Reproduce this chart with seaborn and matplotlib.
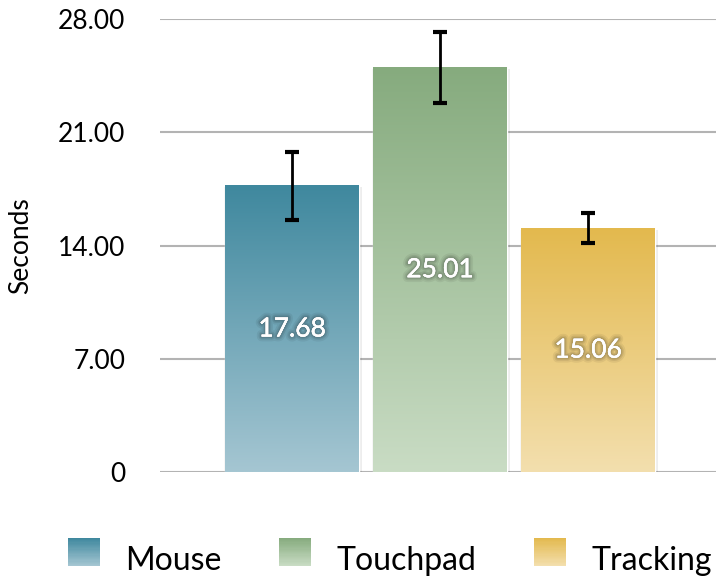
import numpy as np
import pandas as pd
import matplotlib
matplotlib.use("Agg")
import matplotlib.pyplot as plt
import matplotlib.patheffects as pe
from matplotlib.patches import Rectangle
from matplotlib.colors import to_rgb
import seaborn as sns

# Data
devices = ["Mouse", "Touchpad", "Tracking"]
mean_seconds = [17.68, 25.01, 15.06]
err_seconds = [2.1, 2.2, 0.93]
y_ticks = [0, 7, 14, 21, 28]
y_tick_labels = ["0", "7.00", "14.00", "21.00", "28.00"]

# gradient colours (top, bottom) per bar
top_colors = ["#3f889e", "#86ab7e", "#e3b94e"]
bottom_colors = ["#a5c6d2", "#c9dcc4", "#f3dfae"]


def gradient_rgb(top, bottom, n=256):
    t = np.linspace(0, 1, n)[:, None]
    a = np.array(to_rgb(top))
    b = np.array(to_rgb(bottom))
    return (a * (1 - t) + b * t)[:, None, :]


class GradientHandler:
    def __init__(self, top, bottom, steps=24):
        self.top, self.bottom, self.steps = top, bottom, steps

    def legend_artist(self, legend, orig_handle, fontsize, handlebox):
        x0, y0 = handlebox.xdescent, handlebox.ydescent
        w, h = handlebox.width, handlebox.height
        cols = gradient_rgb(self.top, self.bottom, self.steps)[:, 0, :]
        dh = h / self.steps
        for i, c in enumerate(cols):
            r = Rectangle((x0, y0 + h - (i + 1) * dh), w, dh * 1.05,
                          facecolor=c, edgecolor="none",
                          transform=handlebox.get_transform())
            handlebox.add_artist(r)
        return r


sns.set_theme(style="white")
plt.rcParams["font.family"] = ["Lato", "DejaVu Sans"]
plt.rcParams["text.color"] = "black"
plt.rcParams["axes.labelcolor"] = "black"

df = pd.DataFrame({"device": devices, "seconds": mean_seconds})

fig = plt.figure(figsize=(7.16, 5.81), dpi=100)
ax = fig.add_axes([0.2235, 0.1876, 0.7765, 0.7797])

sns.barplot(data=df, x="device", y="seconds", hue="device", palette=top_colors,
            width=0.905, legend=False, ax=ax, zorder=2)

shadow = [pe.SimplePatchShadow(offset=(2, -1), shadow_rgbFace="#000000", alpha=0.07),
          pe.SimplePatchShadow(offset=(-1, -1), shadow_rgbFace="#000000", alpha=0.04),
          pe.Normal()]
for i, bar in enumerate(ax.patches):
    bar.set_path_effects(shadow)
    x, w, h = bar.get_x(), bar.get_width(), bar.get_height()
    ax.imshow(gradient_rgb(top_colors[i], bottom_colors[i]),
              extent=(x, x + w, 0, h), aspect="auto", zorder=2.5,
              interpolation="bilinear")

ax.set_ylim(0, 28)
ax.set_xlim(-0.892, 2.865)

ax.errorbar(range(len(devices)), mean_seconds, yerr=err_seconds, fmt="none",
            ecolor="black", elinewidth=2, capsize=5, capthick=3, zorder=4)

glow = [pe.withStroke(linewidth=7, foreground=(0, 0, 0, 0.06)),
        pe.withStroke(linewidth=4.5, foreground=(0, 0, 0, 0.08)),
        pe.withStroke(linewidth=2.5, foreground=(0, 0, 0, 0.1)),
        pe.Normal()]
for i, v in enumerate(mean_seconds):
    ax.text(i, v / 2, f"{v:.2f}", ha="center", va="center", color="white",
            fontsize=19, zorder=5, path_effects=glow)

ax.set_yticks(y_ticks)
ax.set_yticklabels(y_tick_labels, fontsize=19)
ax.set_xticks([])
ax.set_xlabel("")
ax.set_ylabel("Seconds", fontsize=19)
ax.yaxis.set_label_coords(-0.228, 0.5)
ax.tick_params(axis="y", length=0, pad=25, colors="black")
ax.yaxis.grid(True, color="#b3b3b3", linewidth=1.5, zorder=0)
ax.set_axisbelow(True)
for s in ax.spines.values():
    s.set_visible(False)

handles = [Rectangle((0, 0), 1, 1) for _ in devices]
fig.legend(handles, devices, loc="center", bbox_to_anchor=(0.545, 0.036),
           ncol=3, frameon=False, fontsize=23, handlelength=1.0, handleheight=1.0,
           handletextpad=0.8, columnspacing=1.8, labelcolor="black",
           handler_map={h: GradientHandler(t, b) for h, t, b in
                        zip(handles, top_colors, bottom_colors)})

fig.savefig("out.png", dpi=100)
